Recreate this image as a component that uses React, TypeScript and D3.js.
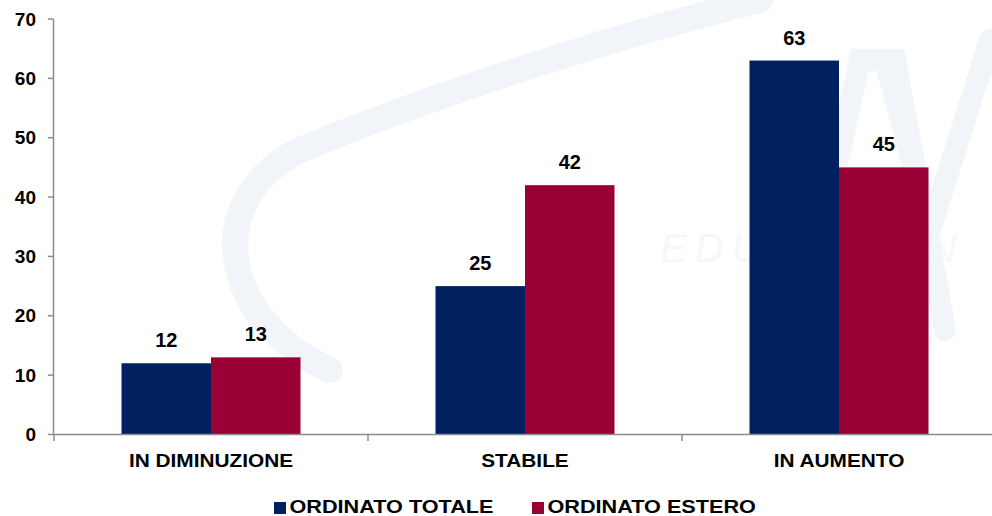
import React from "react";
import * as d3 from "d3";

const categories = ["IN DIMINUZIONE", "STABILE", "IN AUMENTO"];
const seriesNames = ["ORDINATO TOTALE", "ORDINATO ESTERO"];
const totale = [12, 25, 63];
const estero = [13, 42, 45];
const yTicks = [0, 10, 20, 30, 40, 50, 60, 70];
const colors = ["#002060", "#990033"];

const W = 992;
const H = 516;
const FONT = "'Liberation Sans', Arial, sans-serif";

export default function App() {
  const x = d3.scaleBand<string>().domain(categories).range([54, 996]).padding(0);
  const inner = d3
    .scaleBand<string>()
    .domain(seriesNames)
    .range([67.5, x.bandwidth() - 67.5])
    .padding(0);
  const y = d3.scaleLinear().domain([0, 70]).range([434.5, 19]);
  const values = [totale, estero];
  const legendX = d3.scalePoint<string>().domain(seriesNames).range([274, 532]);

  return (
    <svg
      width={W}
      height={H}
      style={{ position: "absolute", left: 0, top: 0, background: "#fff" }}
      fontFamily={FONT}
    >
      {/* faint watermark */}
      <g fill="none" stroke="#f1f4f9" strokeLinecap="round">
        <path d="M 760 0 C 600 40, 420 100, 300 150 C 200 200, 220 320, 330 370" strokeWidth={26} />
        <path d="M 800 330 L 860 60 L 895 60 L 945 330" strokeWidth={22} />
        <path d="M 885 60 L 930 230 L 990 40" strokeWidth={22} />
      </g>
      <text x={660} y={262} fontSize={40} fontStyle="italic" fill="#f5f7fa" letterSpacing={8}>
        EDUCATION
      </text>

      {/* bars */}
      {categories.map((c, i) => (
        <g key={c} transform={`translate(${x(c)},0)`}>
          {seriesNames.map((s, j) => {
            const v = values[j][i];
            const bx = inner(s)!;
            const bw = inner.bandwidth();
            return (
              <g key={s}>
                <rect x={bx} y={y(v)} width={bw} height={y(0) - y(v)} fill={colors[j]} />
                <text
                  x={bx + bw / 2}
                  y={y(v) - 16}
                  textAnchor="middle"
                  fontSize={20}
                  fontWeight="bold"
                  fill="#000"
                >
                  {v}
                </text>
              </g>
            );
          })}
        </g>
      ))}

      {/* y axis */}
      <line x1={53.5} x2={53.5} y1={19} y2={434.5} stroke="#8c8c8c" strokeWidth={1.5} />
      {yTicks.map((t) => (
        <g key={t}>
          <line x1={48} x2={53.5} y1={y(t)} y2={y(t)} stroke="#8c8c8c" strokeWidth={1.5} />
          <text
            x={36}
            y={y(t)}
            dy="0.35em"
            textAnchor="end"
            fontSize={19}
            fontWeight="bold"
            fill="#000"
          >
            {t}
          </text>
        </g>
      ))}

      {/* x axis */}
      <line x1={53.5} x2={996} y1={434.5} y2={434.5} stroke="#8c8c8c" strokeWidth={1.5} />
      {[54, ...categories.map((c) => x(c)! + x.bandwidth())].map((t, i) => (
        <line key={i} x1={t} x2={t} y1={434.5} y2={441} stroke="#8c8c8c" strokeWidth={1.5} />
      ))}
      {categories.map((c) => {
        const cx = x(c)! + x.bandwidth() / 2;
        return (
          <g key={c} transform={`translate(${cx},460) scale(1.12,1)`}>
            <text
              x={0}
              y={0}
              dy="0.35em"
              textAnchor="middle"
              fontSize={18.6}
              fontWeight="bold"
              fill="#000"
            >
              {c}
            </text>
          </g>
        );
      })}

      {/* legend */}
      {seriesNames.map((s, j) => {
        const lx = legendX(s)!;
        return (
          <g key={s}>
            <rect x={lx} y={502} width={12} height={12} fill={colors[j]} />
            <g transform={`translate(${lx + 15.5},507) scale(1.17,1)`}>
              <text x={0} y={0} dy="0.35em" fontSize={18.5} fontWeight="bold" fill="#000">
                {s}
              </text>
            </g>
          </g>
        );
      })}
    </svg>
  );
}
